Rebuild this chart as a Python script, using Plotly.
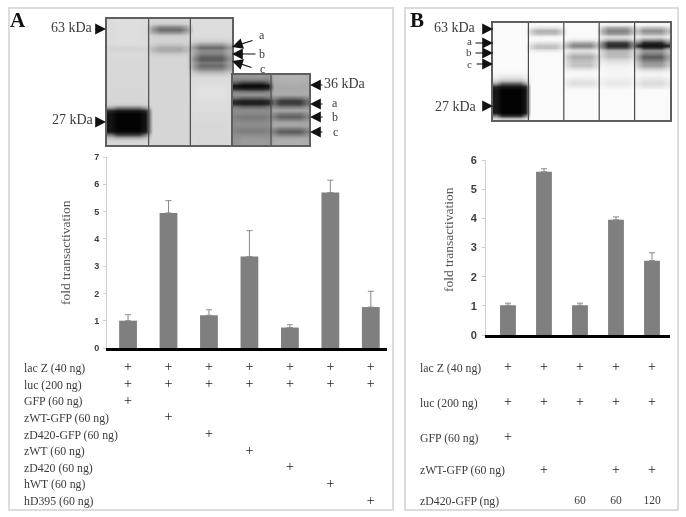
'''
Two-panel figure: western blots on top of fold transactivation bars,
with the transfection table under each bar chart.
'''

import plotly.graph_objects as go

WIDTH = 686
HEIGHT = 517
SERIF = 'Liberation Serif'
SANS = 'Liberation Sans'
TEXT = '#3c3c3c'

# bar charts
values_a = [1.0, 4.95, 1.2, 3.35, 0.75, 5.7, 1.5]
errors_a = [0.22, 0.45, 0.2, 0.95, 0.1, 0.45, 0.58]
values_b = [1.02, 5.6, 1.02, 3.95, 2.55]
errors_b = [0.07, 0.1, 0.07, 0.1, 0.27]

# transfection tables: row label and the columns that carry a mark
rows_a = ['lac Z (40 ng)', 'luc (200 ng)', 'GFP (60 ng)', 'zWT-GFP (60 ng)',
          'zD420-GFP (60 ng)', 'zWT (60 ng)', 'zD420 (60 ng)', 'hWT (60 ng)',
          'hD395 (60 ng)']
marks_a = [[0, 1, 2, 3, 4, 5, 6], [0, 1, 2, 3, 4, 5, 6], [0], [1], [2], [3],
           [4], [5], [6]]
rows_b = ['lac Z (40 ng)', 'luc (200 ng)', 'GFP (60 ng)', 'zWT-GFP (60 ng)',
          'zD420-GFP (ng)']
marks_b = [[0, 1, 2, 3, 4], [0, 1, 2, 3, 4], [0], [1, 3, 4]]
doses_b = ['', '', '60', '60', '120']

# blot lanes: grey level read down each lane, top to bottom
blot_a1 = [
    [222, 222, 222, 222, 222, 222, 222, 222, 220, 212, 214, 218, 218, 216,
     216, 216, 216, 215, 215, 215, 215, 215, 214, 214, 214, 214, 213, 213,
     205, 120, 25, 3, 3, 3, 3, 3, 3, 10, 60, 170, 212, 215],
    [215, 205, 140, 105, 150, 205, 210, 210, 195, 170, 170, 200, 212, 214,
     214, 214, 214, 214, 214, 214, 214, 214, 214, 214, 214, 214, 214, 214,
     214, 214, 214, 214, 214, 214, 214, 214, 214, 214, 214, 214, 214, 214],
    [220, 220, 220, 220, 220, 220, 215, 200, 150, 105, 140, 130, 100, 90,
     120, 105, 130, 175, 205, 218, 220, 222, 224, 225, 225, 225, 224, 222,
     220, 220, 220, 218, 218, 218, 216, 216, 216, 216, 215, 215, 215, 215],
]
blot_a2 = [
    [150, 130, 60, 5, 35, 120, 150, 100, 35, 30, 100, 140, 135, 120, 130,
     140, 140, 130, 125, 140, 150, 155, 155],
    [178, 178, 175, 170, 168, 172, 170, 120, 60, 60, 120, 165, 120, 95, 130,
     165, 165, 120, 90, 125, 165, 175, 175],
]
blot_b = [
    [250, 250, 250, 250, 250, 250, 250, 250, 250, 250, 250, 250, 250, 250,
     250, 250, 248, 240, 225, 190, 90, 20, 3, 3, 3, 3, 3, 3, 3, 3, 3, 40,
     200],
    [250, 225, 175, 190, 245, 248, 225, 195, 195, 235, 250, 250, 250, 250,
     250, 250, 250, 250, 250, 250, 250, 250, 250, 250, 250, 250, 250, 250,
     250, 250, 250, 250, 250],
    [250, 250, 250, 250, 248, 235, 170, 130, 175, 225, 200, 170, 185, 195,
     195, 225, 245, 248, 240, 228, 222, 235, 250, 250, 250, 250, 250, 250,
     250, 250, 250, 250, 250],
    [240, 165, 130, 150, 225, 180, 60, 40, 90, 180, 185, 190, 215, 230, 240,
     245, 245, 245, 240, 235, 232, 240, 250, 250, 250, 250, 250, 250, 250,
     250, 250, 250, 250],
    [245, 190, 140, 170, 225, 150, 40, 15, 60, 150, 130, 90, 115, 150, 160,
     205, 235, 245, 235, 225, 218, 230, 250, 250, 250, 250, 250, 250, 250,
     250, 250, 250, 250],
]
# each lane is six columns wide, the outer two fade to the lane background
LANE_COLS = 6


def dom_x(left, right):
    return [left / WIDTH, right / WIDTH]


def dom_y(top, bottom):
    return [1 - bottom / HEIGHT, 1 - top / HEIGHT]


def blot_matrix(lanes):
    backs = [sorted(lane)[len(lane) * 2 // 3] for lane in lanes]
    matrix = []
    for r in range(len(lanes[0])):
        row = []
        for lane, back in zip(lanes, backs):
            # saturated bands run out further than the others
            fade = 0.92 if lane[r] < 40 else 0.6
            edge = back + (lane[r] - back) * fade
            row += [edge, lane[r], lane[r], lane[r], lane[r], edge]
        matrix.append(row)
    return matrix


fig = go.Figure()


def add_bars(values, errors, xa, ya):
    fig.add_trace(go.Bar(
        x=list(range(len(values))), y=values, xaxis=xa, yaxis=ya,
        width=0.44, marker=dict(color='#7f7f7f', line_width=0),
        error_y=dict(type='data', symmetric=False, array=errors,
                     arrayminus=[0] * len(errors), color='#8a8a8a',
                     thickness=1, width=3)))


def add_table(rows, marks, slots, xa, ya):
    xs, ys = [], []
    for r, columns in enumerate(marks):
        for c in columns:
            xs.append(c)
            ys.append(slots[r])
    fig.add_trace(go.Scatter(
        x=xs, y=ys, xaxis=xa, yaxis=ya, mode='text', text=['+'] * len(xs),
        textfont=dict(family=SERIF, size=14, color='#222222')))
    for r, label in enumerate(rows):
        fig.add_annotation(
            text=label, xref='paper', yref=ya, x=row_left[xa] / WIDTH,
            y=slots[r], xanchor='left', yanchor='middle', showarrow=False,
            font=dict(family=SERIF, size=11.8, color=TEXT))


def add_blot(lanes, xa, ya):
    matrix = blot_matrix(lanes)
    fig.add_trace(go.Heatmap(
        z=matrix, xaxis=xa, yaxis=ya, zmin=0, zmax=255, zsmooth='best',
        colorscale=[[0, '#000000'], [1, '#ffffff']], showscale=False))
    for i in range(1, len(lanes)):
        edge = i * LANE_COLS - 0.5
        fig.add_shape(type='line', xref=xa, yref=ya, x0=edge, x1=edge,
                      y0=-0.5, y1=len(matrix) - 0.5,
                      line=dict(color='#4a4a4a', width=1.2))


row_left = {'x': 22, 'x2': 418}
# the rows of table B are not evenly spaced
slots_a = list(range(len(rows_a)))
slots_b = [0, 1.05, 2.1, 3.07, 4]

add_bars(values_a, errors_a, 'x', 'y')
add_bars(values_b, errors_b, 'x2', 'y2')
add_table(rows_a, marks_a, slots_a, 'x', 'y3')
add_table(rows_b, marks_b, slots_b, 'x2', 'y4')
fig.add_trace(go.Scatter(
    x=list(range(len(doses_b))), y=[slots_b[-1]] * len(doses_b),
    xaxis='x2', yaxis='y4', mode='text', text=doses_b,
    textfont=dict(family=SERIF, size=11.5, color=TEXT)))
add_blot(blot_a1, 'x3', 'y5')
add_blot(blot_a2, 'x4', 'y6')
add_blot(blot_b, 'x5', 'y7')

# panel frames
for left, right in [(9, 393), (405, 678)]:
    fig.add_shape(type='rect', xref='paper', yref='paper', layer='below',
                  x0=left / WIDTH, x1=right / WIDTH, y0=1 - 510 / HEIGHT,
                  y1=1 - 8 / HEIGHT, line=dict(color='#dcdcdc', width=2))

# blot labels: text, centre x, centre y, size
labels = [
    ('63 kDa', 72, 28, 14), ('27 kDa', 73, 119, 14), ('a', 262, 35, 12),
    ('b', 262, 54, 12), ('c', 262, 69, 12), ('36 kDa', 345, 84, 14),
    ('a', 335, 103, 12), ('b', 335, 117, 12), ('c', 335, 132, 12),
    ('63 kDa', 455, 28, 14), ('a', 469, 41, 11), ('b', 469, 52, 11),
    ('c', 469, 64, 11), ('27 kDa', 456, 106, 14),
]
for text, x, y, size in labels:
    fig.add_annotation(text=text, xref='paper', yref='paper', x=x / WIDTH,
                       y=1 - y / HEIGHT, xanchor='center', yanchor='middle',
                       showarrow=False,
                       font=dict(family=SERIF, size=size, color=TEXT))
for text, x in [('A', 18), ('B', 417)]:
    fig.add_annotation(text=f'<b>{text}</b>', xref='paper', yref='paper',
                       x=x / WIDTH, y=1 - 20 / HEIGHT, xanchor='center',
                       yanchor='middle', showarrow=False,
                       font=dict(family=SERIF, size=21, color='#111111'))
# axis titles sit off the axis centre in panel B, so they are annotations
for x, y in [(66, 253), (449, 240)]:
    fig.add_annotation(text='fold transactivation', xref='paper', yref='paper',
                       x=x / WIDTH, y=1 - y / HEIGHT, textangle=-90,
                       xanchor='center', yanchor='middle', showarrow=False,
                       font=dict(family=SERIF, size=13.5, color='#555555'))

# arrows: tip x, tip y, tail x, tail y
arrows = [
    (106, 29, 94, 29), (106, 122, 97, 122), (232, 47, 254, 40),
    (232, 54, 257, 54), (232, 61, 253, 68), (310, 85, 324, 85),
    (310, 104, 324, 104), (310, 117, 324, 117), (310, 132, 324, 132),
    (493, 29, 483, 29), (493, 43, 474, 43), (493, 53, 474, 53),
    (493, 64, 475, 64), (493, 106, 483, 106),
]
for tip_x, tip_y, tail_x, tail_y in arrows:
    fig.add_annotation(text='', xref='paper', yref='paper', x=tip_x / WIDTH,
                       y=1 - tip_y / HEIGHT, ax=tail_x - tip_x,
                       ay=tail_y - tip_y, showarrow=True, arrowhead=2,
                       arrowsize=1.8, arrowwidth=1.2, arrowcolor='#111111')

hidden = dict(visible=False, fixedrange=True)
bar_x = dict(showline=True, linecolor='#000000', linewidth=3, showgrid=False,
             zeroline=False, showticklabels=False, ticks='', fixedrange=True)
bar_y = dict(showline=True, linecolor='#cfcfcf', linewidth=1, showgrid=False,
             zeroline=False, ticks='outside', ticklen=3, tickcolor='#cfcfcf',
             dtick=1, fixedrange=True)


def blot_x(n):
    return dict(range=[-0.5, n - 0.5], showline=True, mirror=True,
                linecolor='#5f5f5f', linewidth=1.5, showticklabels=False,
                ticks='', showgrid=False, zeroline=False, fixedrange=True)


def blot_y(n):
    return dict(range=[n - 0.5, -0.5], showline=True, mirror=True,
                linecolor='#5f5f5f', linewidth=1.5, showticklabels=False,
                ticks='', showgrid=False, zeroline=False, fixedrange=True)


fig.update_layout(
    template='none',
    width=WIDTH, height=HEIGHT, margin=dict(l=0, r=0, t=0, b=0),
    paper_bgcolor='#ffffff', plot_bgcolor='#ffffff', showlegend=False,
    xaxis=dict(domain=dom_x(107, 387), range=[-0.52, 6.4], anchor='y', **bar_x),
    yaxis=dict(domain=dom_y(157, 348), range=[0, 7], anchor='x',
               ticklabelstandoff=2,
               tickfont=dict(family=SANS, size=9, color=TEXT, weight='bold'),
               **bar_y),
    xaxis2=dict(domain=dom_x(486, 670), range=[-0.61, 4.5], anchor='y2',
                **bar_x),
    yaxis2=dict(domain=dom_y(160, 335), range=[0, 6], anchor='x2',
                ticklabelstandoff=3,
                tickfont=dict(family=SANS, size=11, color=TEXT, weight='bold'),
                **bar_y),
    yaxis3=dict(domain=dom_y(360, 509), range=[8.48, -0.48], anchor='x',
                **hidden),
    yaxis4=dict(domain=dom_y(360, 509), range=[4.24, -0.24], anchor='x2',
                **hidden),
    xaxis3=dict(domain=dom_x(107, 232), anchor='y5',
                **blot_x(len(blot_a1) * LANE_COLS)),
    yaxis5=dict(domain=dom_y(19, 145), anchor='x3', **blot_y(len(blot_a1[0]))),
    xaxis4=dict(domain=dom_x(233, 309), anchor='y6',
                **blot_x(len(blot_a2) * LANE_COLS)),
    yaxis6=dict(domain=dom_y(75, 145), anchor='x4', **blot_y(len(blot_a2[0]))),
    xaxis5=dict(domain=dom_x(493, 670), anchor='y7',
                **blot_x(len(blot_b) * LANE_COLS)),
    yaxis7=dict(domain=dom_y(23, 120), anchor='x5', **blot_y(len(blot_b[0]))),
)

# the page body margin would push the fixed-size figure out of the window
fig.write_html('out.html', config=dict(displayModeBar=False), post_script=(
    "document.body.style.margin='0';"
    "document.body.style.overflow='hidden';"
    "document.querySelector('.plotly-graph-div').style.filter='blur(0.6px)';"))
